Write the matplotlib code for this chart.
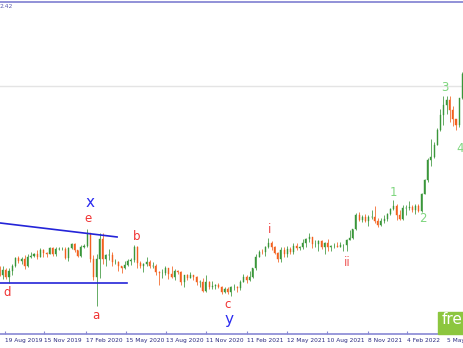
import matplotlib
matplotlib.use("Agg")
import matplotlib.pyplot as plt
import matplotlib.dates as mdates
from matplotlib.patches import Rectangle
import numpy as np
import pandas as pd

# weekly USD/JPY bars (week centre dates)
first_open = 106.6
closes = [
    # 2019 (from 5 Aug)
    105.7, 106.4, 105.4, 106.3, 106.9, 108.1, 107.6, 107.9, 106.9, 108.3, 108.4,
    108.7, 108.2, 109.2, 108.8, 108.7, 109.5, 108.6, 109.4, 109.4, 109.4, 108.1,
    # 2020
    109.5, 110.1, 109.3, 108.4, 109.7, 109.8, 111.6, 107.9, 105.4, 108.0, 110.8,
    107.9, 108.5, 108.5, 107.5, 107.5, 106.9, 106.6, 107.1, 107.6, 107.8, 109.6,
    107.4, 106.9, 107.2, 107.5, 106.9, 107.0, 106.1, 105.9, 105.9, 106.6, 105.8,
    105.4, 106.2, 106.1, 104.6, 105.6, 105.3, 105.6, 105.4, 104.7, 104.7, 103.4,
    104.6, 103.9, 104.1, 104.2, 104.0, 103.3, 103.6, 103.2,
    # 2021
    103.9, 103.9, 103.8, 104.7, 105.4, 104.9, 105.4, 106.6, 108.3, 109.0, 108.9,
    109.6, 110.3, 109.7, 108.8, 107.9, 109.3, 108.6, 109.4, 108.9, 109.8, 109.5,
    109.7, 110.2, 110.8, 111.1, 110.1, 110.1, 110.5, 109.7, 110.2, 109.6, 109.8,
    109.8, 109.7, 109.9, 109.9, 110.7, 111.0, 112.2, 114.2, 113.5, 114.0, 113.4,
    113.9, 114.0, 113.4, 112.8, 113.4, 113.7, 114.4, 115.1,
    # 2022
    115.5, 114.2, 113.7, 115.2, 115.2, 115.4, 115.0, 115.5, 114.8, 117.3, 119.2,
    122.1, 122.5, 124.3, 126.4, 128.5, 130.0, 130.6, 129.2, 127.9, 127.1, 130.9,
    134.4,
]
highs = [
    106.9, 107.0, 106.7, 106.7, 107.2, 108.2, 108.4, 108.2, 108.5, 108.6, 108.9,
    108.8, 109.2, 109.5, 109.4, 109.0, 109.7, 109.7, 109.7, 109.7, 109.6, 109.7,
    109.7, 110.3, 110.2, 109.3, 110.0, 110.1, 112.2, 111.7, 108.5, 108.6, 111.6,
    111.7, 108.7, 109.4, 108.9, 108.0, 107.6, 107.0, 107.7, 107.9, 108.1, 109.9,
    109.8, 107.6, 107.4, 108.2, 107.8, 107.5, 107.3, 106.3, 106.5, 107.0, 106.6,
    107.0, 106.5, 106.4, 106.2, 105.7, 105.8, 106.1, 105.7, 105.5, 105.0, 105.3,
    105.7, 104.8, 104.8, 104.4, 104.5, 104.1, 103.9, 103.9,
    104.1, 104.4, 104.1, 104.9, 105.8, 105.6, 106.2, 106.7, 108.6, 109.2, 109.4,
    109.8, 111.0, 110.5, 109.8, 108.9, 109.7, 109.6, 109.8, 109.6, 110.2, 110.3,
    109.8, 110.8, 111.0, 111.7, 111.1, 110.7, 110.6, 110.6, 110.4, 110.8, 109.9,
    110.3, 110.4, 110.4, 110.1, 110.8, 112.1, 112.3, 114.5, 114.7, 114.3, 114.4,
    114.2, 114.9, 115.5, 113.8, 113.8, 114.3, 114.5, 115.2,
    116.4, 115.8, 114.9, 115.7, 115.6, 116.3, 115.7, 115.8, 115.8, 117.4, 119.4,
    122.4, 125.1, 124.7, 126.7, 129.4, 131.3, 131.3, 131.3, 129.8, 128.0, 131.0,
    134.6,
]
lows = [
    105.5, 105.1, 105.1, 104.5, 105.7, 106.8, 107.4, 107.3, 106.5, 106.8, 108.1,
    108.2, 107.9, 108.2, 108.2, 108.3, 108.6, 108.4, 108.4, 109.2, 109.2, 107.9,
    107.6, 109.4, 109.0, 108.3, 108.3, 109.5, 109.7, 107.5, 105.0, 101.2, 105.2,
    107.2, 106.9, 107.8, 106.9, 107.3, 106.3, 106.0, 106.5, 106.9, 107.1, 107.5,
    106.6, 106.7, 106.1, 107.0, 106.6, 106.7, 105.7, 104.2, 105.3, 105.7, 105.1,
    105.2, 104.9, 105.8, 104.3, 104.0, 104.9, 105.2, 105.0, 104.3, 104.0, 103.2,
    103.2, 103.6, 103.7, 103.7, 103.8, 102.9, 103.1, 102.9,
    102.6, 103.5, 103.3, 103.5, 104.6, 104.5, 104.8, 105.2, 106.4, 108.2, 108.6,
    108.4, 109.5, 109.3, 108.6, 107.5, 107.5, 108.3, 108.3, 108.6, 108.6, 109.3,
    109.2, 109.4, 109.7, 110.4, 109.5, 109.7, 109.1, 109.4, 108.7, 109.1, 109.1,
    109.5, 109.6, 109.6, 109.1, 109.1, 110.7, 110.8, 112.1, 113.4, 113.2, 113.3,
    112.7, 113.6, 113.1, 112.5, 112.7, 113.1, 113.4, 114.3,
    115.0, 113.5, 113.5, 113.5, 114.2, 114.9, 114.7, 114.4, 114.6, 114.7, 117.2,
    119.0, 121.3, 122.4, 124.2, 126.2, 127.1, 128.6, 127.5, 127.0, 126.4, 126.8,
    130.8,
]
assert len(closes) == len(highs) == len(lows)

tick_dates = ["2019-08-19", "2019-11-15", "2020-02-17", "2020-05-15", "2020-08-13",
              "2020-11-11", "2021-02-11", "2021-05-12", "2021-08-10", "2021-11-08",
              "2022-02-04", "2022-05-05"]
tick_labels = ["19 Aug 2019", "15 Nov 2019", "17 Feb 2020", "15 May 2020", "13 Aug 2020",
               "11 Nov 2020", "11 Feb 2021", "12 May 2021", "10 Aug 2021", "8 Nov 2021",
               "4 Feb 2022", "5 May 2022"]

# wave labels: text, date, price, colour
wave_labels = [
    ("x", "2020-02-25", 116.0, "#2b2bf0"),
    ("e", "2020-02-20", 113.8, "#f03232"),
    ("b", "2020-06-09", 111.1, "#f03232"),
    ("a", "2020-03-09", 99.9, "#f03232"),
    ("d", "2019-08-23", 103.1, "#f03232"),
    ("c", "2020-12-30", 101.5, "#f03232"),
    ("y", "2021-01-02", 99.3, "#2b2bf0"),
    ("i", "2021-04-03", 112.1, "#f04848"),
    ("ii", "2021-09-23", 107.5, "#f05a5a"),
    ("1", "2022-01-06", 117.4, "#7fd67f"),
    ("2", "2022-03-12", 113.8, "#7fd67f"),
    ("3", "2022-04-30", 132.5, "#7fd67f"),
    ("4", "2022-06-03", 123.8, "#7fd67f"),
]

# trend lines of the triangle
upper_line = (["2019-08-08", "2020-04-26"], [113.09, 111.09])
lower_line = (["2019-08-08", "2020-05-19"], [104.52, 104.52])

dates = pd.date_range("2019-08-07", periods=len(closes), freq="7D")
opens = [first_open] + closes[:-1]
closes_a = np.array(closes)
opens_a = np.array(opens)
up = closes_a >= opens_a
colors = np.where(up, "#3a963a", "#f2601e")

fig = plt.figure(figsize=(4.63, 3.48), dpi=100)
ax = fig.add_axes([0, 14 / 348, 1, 334 / 348])

ax.vlines(dates, lows, highs, colors=colors, lw=0.55, zorder=3)
ax.bar(dates, closes_a - opens_a, bottom=opens_a, width=2.4, color=colors,
       edgecolor=colors, linewidth=0.3, zorder=4)

ax.plot(pd.to_datetime(upper_line[0]), upper_line[1], color="#2424d8", lw=1.2, zorder=5)
ax.plot(pd.to_datetime(lower_line[0]), lower_line[1], color="#2424d8", lw=1.2, zorder=5)

for txt, d, p, c in wave_labels:
    big = txt in ("x", "y")
    ax.text(pd.Timestamp(d), p, txt, color=c, fontsize=11 if big else 8.5,
            ha="center", va="center", zorder=6)

# horizontal levels
ax.axhline(144.73, color="#8888d4", lw=1.3, zorder=2)
ax.axhline(132.66, color="#e4e4e4", lw=1.0, zorder=1)

px_day = 0.4465
x0 = mdates.date2num(pd.Timestamp("2019-08-19")) - 5 / px_day
ax.set_xlim(x0, x0 + 463 / px_day)
ax.set_ylim(112.23 - 105 / 7, 112.23 + 229 / 7)

ax.set_xticks(pd.to_datetime(tick_dates))
ax.set_xticklabels(tick_labels, ha="left")
ax.tick_params(axis="x", direction="in", length=2.5, width=0.8, color="#8888d4",
               labelsize=4.2, labelcolor="#2a2a80", pad=3)
ax.set_yticks([])
for s in ["top", "left", "right"]:
    ax.spines[s].set_visible(False)
ax.spines["bottom"].set_color("#8888d4")
ax.spines["bottom"].set_linewidth(1.2)

fig.text(0.0, 1 - 6.5 / 348, "2.42", fontsize=4.3, color="#5c5cb0", ha="left", va="center")

fig.patches.append(Rectangle((438 / 463, 14.5 / 348), 25 / 463, 21.5 / 348,
                             transform=fig.transFigure, color="#8cc63f", zorder=10))
fig.text(442 / 463, 1 - 320 / 348, "fre", fontsize=11, color="white",
         ha="left", va="center", zorder=11)

fig.savefig("out.png", dpi=100)
